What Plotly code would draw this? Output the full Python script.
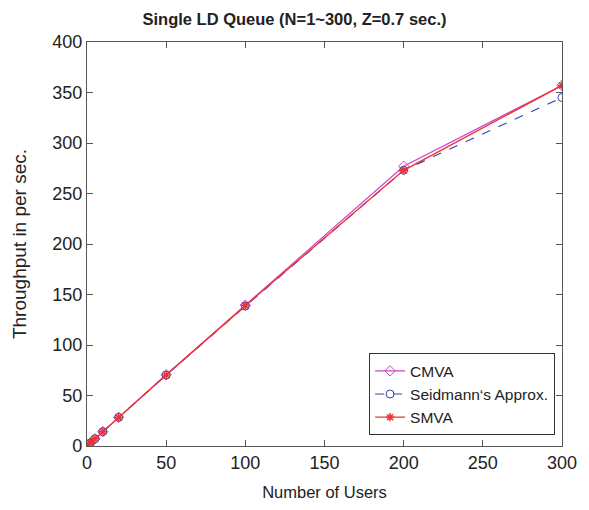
import plotly.graph_objects as go

users = [1, 2, 5, 10, 20, 50, 100, 200, 300]
cmva = [1.4, 2.9, 7.1, 14.2, 28.4, 70.5, 139.5, 277, 357]
seidmann = [1.4, 2.9, 7.1, 14.2, 28.3, 70.2, 138.5, 273, 345]
smva = [1.4, 2.9, 7.1, 14.2, 28.3, 70.3, 139, 273, 357]

font = "Liberation Sans, Arial, sans-serif"
fig = go.Figure()
fig.add_trace(go.Scatter(x=users, y=cmva, name="CMVA", mode="lines+markers",
                         line=dict(color="#cc44cc", width=1.2),
                         marker=dict(symbol="diamond-open", size=8, color="#cc44cc")))
fig.add_trace(go.Scatter(x=users, y=seidmann, name="Seidmann\u2018s Approx.", mode="lines+markers",
                         line=dict(color="#3344aa", width=1.2, dash="dash"),
                         marker=dict(symbol="circle-open", size=8, color="#3344aa")))
fig.add_trace(go.Scatter(x=users, y=smva, name="SMVA", mode="lines+markers",
                         line=dict(color="#ee3333", width=1.4),
                         marker=dict(symbol="asterisk-open", size=7, color="#ee3333", line=dict(width=1.5, color="#ee3333"))))

axis_common = dict(showgrid=False, zeroline=False, showline=True, mirror="ticks",
                   linecolor="#555555", linewidth=1.2, ticks="inside", ticklen=6,
                   tickcolor="#555555", tickfont=dict(size=18, color="#222222", family=font))
fig.update_layout(
    width=589, height=510,
    margin=dict(l=87, r=22, t=42, b=64),
    paper_bgcolor="white", plot_bgcolor="white",
    title=dict(text="<b>Single LD Queue (N=1~300, Z=0.7 sec.)</b>", x=0.5, xanchor="center",
               y=0.963, yanchor="middle", font=dict(size=16.5, color="#222222", family=font)),
    xaxis=dict(range=[0, 300], tickvals=[0, 50, 100, 150, 200, 250, 300],
               title=dict(text="Number of Users", font=dict(size=16.5, color="#222222", family=font), standoff=14),
               **axis_common),
    yaxis=dict(range=[0, 400], tickvals=[0, 50, 100, 150, 200, 250, 300, 350, 400],
               title=dict(text="Throughput in per sec.", font=dict(size=19, color="#222222", family=font), standoff=20),
               **axis_common),
    legend=dict(x=0.985, y=0.027, xanchor="right", yanchor="bottom",
                bgcolor="white", bordercolor="#333333", borderwidth=1.2,
                font=dict(size=15.5, color="#222222", family=font),
                tracegroupgap=0, itemwidth=30),
    showlegend=True,
)
fig.write_html("out.html")
